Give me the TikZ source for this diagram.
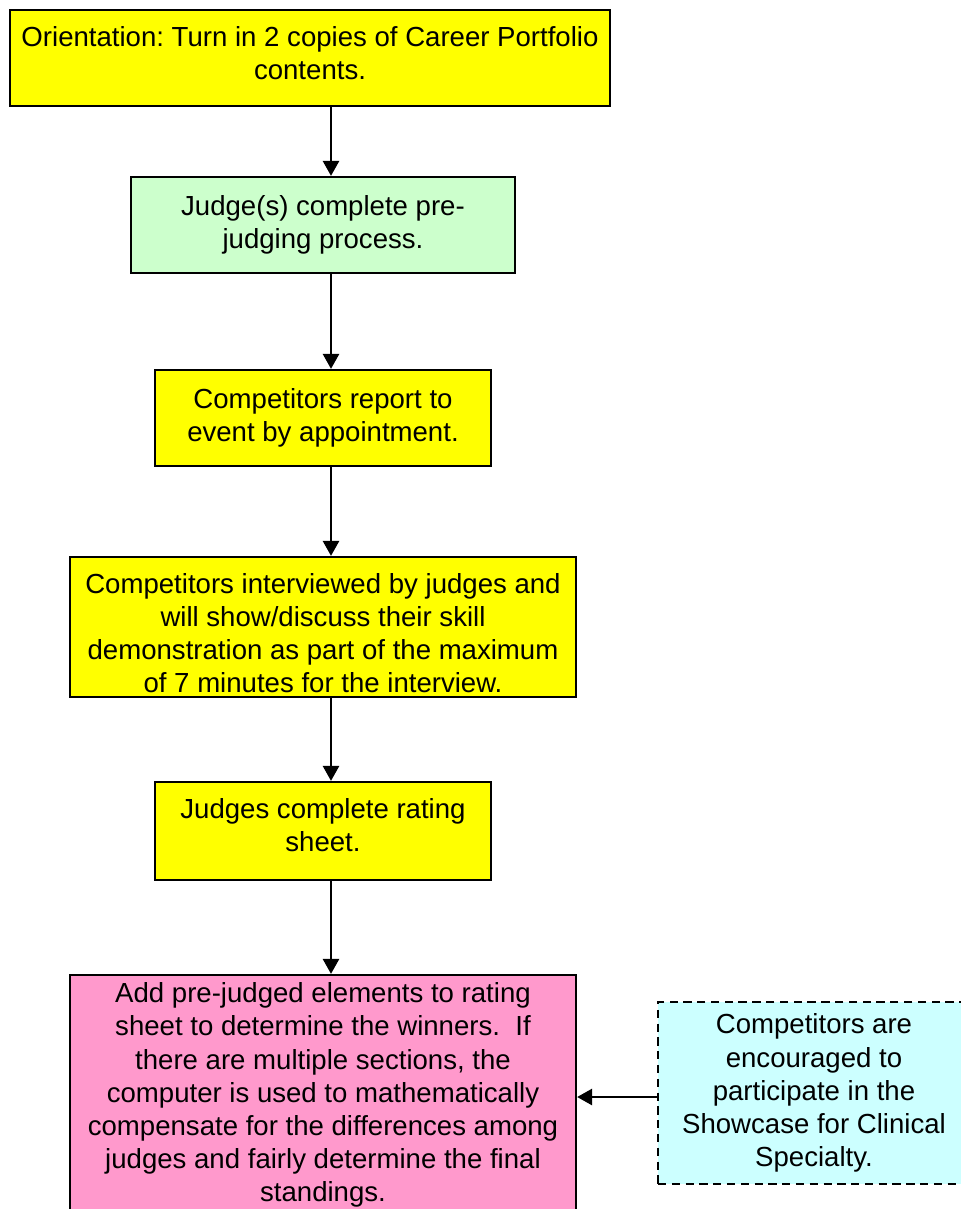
\documentclass[tikz,border=0pt]{standalone}
\usepackage{fontspec}
\setmainfont{Liberation Sans}
\usetikzlibrary{arrows.meta}
\definecolor{stepyellow}{HTML}{FFFF00}
\definecolor{stepgreen}{HTML}{CCFFCC}
\definecolor{steppink}{HTML}{FF99CC}
\definecolor{stepcyan}{HTML}{CCFFFF}
% invisible struts to nudge a text block up (extra depth) or down (extra height)
\newcommand\lowpad[1]{\rule[-#1]{0pt}{#1}}
\newcommand\highpad[1]{\rule{0pt}{#1}}
\frenchspacing
\begin{document}
\begin{tikzpicture}[x=0.435pt,y=-0.435pt,
  stepbox/.style={draw=black, line width=1pt, align=center, inner sep=0pt,
    font=\fontsize{12}{14.4}\selectfont},
  boxsize/.style 2 args={minimum width=#1*0.435pt, minimum height=#2*0.435pt},
  flow/.style={draw=black, line width=1pt, -{Triangle[length=6.5pt,width=7pt]}}]
\useasboundingbox (0,0) rectangle (961,1209);
\clip (0,0) rectangle (961,1209);

% process steps
\node[stepbox, fill=stepyellow, boxsize={600}{96}] (orient) at (310,58)
  {Orientation: Turn in 2 copies of Career Portfolio\\contents.\lowpad{4.6pt}};
\node[stepbox, fill=stepgreen, boxsize={384}{96}] (prejudge) at (323,225)
  {Judge(s) complete pre-\\judging process.};
\node[stepbox, fill=stepyellow, boxsize={336}{96}] (report) at (323,418)
  {Competitors report to\\event by appointment.};
\node[stepbox, fill=stepyellow, boxsize={506}{140}] (interview) at (323,627)
  {\highpad{13.8pt}Competitors interviewed by judges and\\will show/discuss their skill\\demonstration as part of the maximum\\of 7 minutes for the interview.};
\node[stepbox, fill=stepyellow, boxsize={336}{98}] (rating) at (323,831)
  {Judges complete rating\\sheet.\lowpad{5.2pt}};
\node[stepbox, fill=steppink, boxsize={506}{240}] (final) at (323,1095)
  {Add pre-judged elements to rating\\sheet to determine the winners.\ \ If\\there are multiple sections, the\\computer is used to mathematically\\compensate for the differences among\\judges and fairly determine the final\\standings.};

% optional showcase note
\node[stepbox, fill=stepcyan, dash pattern=on 3.6pt off 2.4pt, boxsize={312}{182}] (showcase) at (814,1093)
  {Competitors are\\encouraged to\\participate in the\\Showcase for Clinical\\Specialty.};

% connectors
\coordinate (spine) at (331,0);
\coordinate (feed) at (0,1097);
\draw[flow] (orient.south -| spine) -- (prejudge.north -| spine);
\draw[flow] (prejudge.south -| spine) -- (report.north -| spine);
\draw[flow] (report.south -| spine) -- (interview.north -| spine);
\draw[flow] (interview.south -| spine) -- (rating.north -| spine);
\draw[flow] (rating.south -| spine) -- (final.north -| spine);
\draw[flow] (showcase.west |- feed) -- (final.east |- feed);
\end{tikzpicture}
\end{document}
